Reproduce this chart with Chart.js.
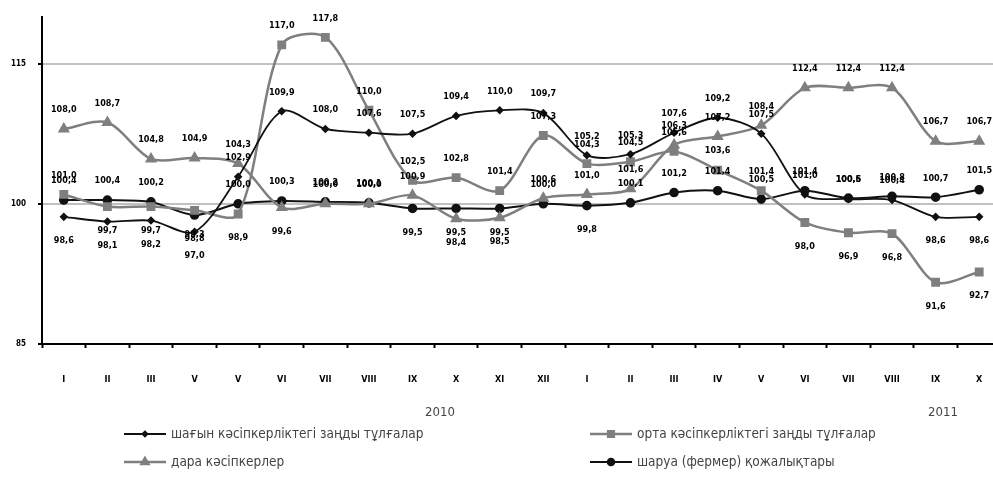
<!DOCTYPE html>
<html>
<head>
<meta charset="utf-8">
<script src="https://cdn.jsdelivr.net/npm/chart.js@4.4.1/dist/chart.umd.min.js"></script>
<style>
    html, body { margin: 0; padding: 0; background: #fff; overflow: hidden; }
    #wrap { width: 1010px; height: 500px; position: relative; }
</style>
</head>
<body>
<div id="wrap"><canvas id="indexChart"></canvas></div>
<script>
// Month labels (as printed on the axis) and year captions
const months = ['I', 'II', 'III', 'V', 'V', 'VI', 'VII', 'VIII', 'IX', 'X', 'XI', 'XII',
                'I', 'II', 'III', 'IV', 'V', 'VI', 'VII', 'VIII', 'IX', 'X'];
const years = ['2010', '2011'];
const yTicks = [85, 100, 115];

const seriesNames = [
    'шағын кәсіпкерліктегі заңды тұлғалар',
    'орта кәсіпкерліктегі заңды тұлғалар',
    'дара кәсіпкерлер',
    'шаруа (фермер) қожалықтары'
];

// Values
const smallBiz = [98.6, 98.1, 98.2, 97.0, 102.9, 109.9, 108.0, 107.6, 107.5, 109.4, 110.0, 109.7,
                  105.2, 105.3, 107.6, 109.2, 107.5, 101.0, 100.5, 100.4, 98.6, 98.6];
const mediumBiz = [101.0, 99.7, 99.7, 99.3, 98.9, 117.0, 117.8, 110.0, 102.5, 102.8, 101.4, 107.3,
                   104.3, 104.5, 105.6, 103.6, 101.4, 98.0, 96.9, 96.8, 91.6, 92.7];
const soleTraders = [108.0, 108.7, 104.8, 104.9, 104.3, 99.6, 100.0, 100.0, 100.9, 98.4, 98.5, 100.6,
                     101.0, 101.6, 106.3, 107.2, 108.4, 112.4, 112.4, 112.4, 106.7, 106.7];
const farms = [100.4, 100.4, 100.2, 98.8, 100.0, 100.3, 100.2, 100.1, 99.5, 99.5, 99.5, 100.0,
               99.8, 100.1, 101.2, 101.4, 100.5, 101.4, 100.6, 100.8, 100.7, 101.5];

const BLACK = '#111111';
const GRAY = '#7f7f7f';
const narrowFont = "'Liberation Sans Narrow', 'DejaVu Sans Condensed', 'Liberation Sans', sans-serif";

// value labels next to every point
const valueLabels = {
    id: 'valueLabels',
    afterDatasetsDraw(chart) {
        const ctx = chart.ctx;
        ctx.save();
        ctx.font = 'bold 9px ' + narrowFont;
        ctx.fillStyle = '#000';
        ctx.textAlign = 'center';
        ctx.textBaseline = 'middle';
        chart.data.datasets.forEach((ds, i) => {
            const meta = chart.getDatasetMeta(i);
            meta.data.forEach((pt, j) => {
                const v = ds.data[j];
                const text = v.toFixed(1).replace('.', ',');
                const dy = v >= 100 ? -19 : 24;
                ctx.fillText(text, pt.x, pt.y + dy);
            });
        });
        ctx.restore();
    }
};

// year captions and the 2x2 legend under the axis
const bottomText = {
    id: 'bottomText',
    afterDraw(chart) {
        const ctx = chart.ctx;
        ctx.save();
        ctx.font = '13px ' + narrowFont;
        ctx.fillStyle = '#444';
        ctx.textAlign = 'center';
        ctx.textBaseline = 'middle';
        ctx.fillText(years[0], 440, 413);
        ctx.fillText(years[1], 943, 413);

        const slots = [
            { ds: 0, x: 124, y: 434 },
            { ds: 1, x: 590, y: 434 },
            { ds: 2, x: 124, y: 462 },
            { ds: 3, x: 590, y: 462 }
        ];
        slots.forEach(s => {
            const ds = chart.data.datasets[s.ds];
            ctx.strokeStyle = ds.borderColor;
            ctx.fillStyle = ds.borderColor;
            ctx.lineWidth = ds.borderWidth;
            ctx.beginPath();
            ctx.moveTo(s.x, s.y);
            ctx.lineTo(s.x + 42, s.y);
            ctx.stroke();
            Chart.helpers.drawPoint(ctx, {
                pointStyle: ds.pointStyle,
                radius: ds.pointRadius - 0.5,
                rotation: 0,
                borderWidth: 1
            }, s.x + 21, s.y);
            ctx.fillStyle = '#444';
            ctx.textAlign = 'left';
            ctx.font = '13.5px ' + narrowFont;
            ctx.fillText(seriesNames[s.ds], s.x + 47, s.y);
        });
        ctx.restore();
    }
};

function makeSet(idx, data, color, style, radius, width) {
    return {
        label: seriesNames[idx],
        data: data,
        borderColor: color,
        backgroundColor: color,
        pointBackgroundColor: color,
        pointBorderColor: color,
        pointStyle: style,
        pointRadius: radius,
        borderWidth: width,
        tension: 0.3,
        fill: false
    };
}

const ctx = document.getElementById('indexChart').getContext('2d');
new Chart(ctx, {
    type: 'line',
    data: {
        labels: months,
        datasets: [
            makeSet(0, smallBiz, BLACK, 'rectRot', 3, 1.8),
            makeSet(1, mediumBiz, GRAY, 'rect', 4.5, 2.5),
            makeSet(2, soleTraders, GRAY, 'triangle', 4.5, 2.5),
            makeSet(3, farms, BLACK, 'circle', 3.8, 2)
        ]
    },
    options: {
        responsive: true,
        maintainAspectRatio: false,
        animation: false,
        layout: { padding: { top: 14, right: 9, left: 0, bottom: 0 } },
        plugins: {
            legend: { display: false },
            tooltip: { enabled: false }
        },
        scales: {
            x: {
                offset: true,
                afterFit: s => { s.height = 156; },
                grid: {
                    offset: true,
                    drawOnChartArea: false,
                    tickLength: 4,
                    tickColor: '#000',
                    tickWidth: 2
                },
                border: { color: '#000', width: 2 },
                ticks: {
                    autoSkip: false,
                    maxRotation: 0,
                    padding: 26,
                    color: '#000',
                    font: { family: narrowFont, size: 9, weight: 'bold' }
                }
            },
            y: {
                min: 85,
                max: 120,
                afterFit: s => { s.width = 42; },
                afterBuildTicks: s => { s.ticks = yTicks.map(v => ({ value: v })); },
                grid: {
                    color: c => (c.tick && c.tick.value === 85) ? 'rgba(0,0,0,0)' : '#c0c0c0',
                    lineWidth: 2,
                    tickLength: 4,
                    tickColor: '#000',
                    tickWidth: 2
                },
                border: { color: '#000', width: 2 },
                ticks: {
                    padding: 12,
                    color: '#000',
                    font: { family: narrowFont, size: 8, weight: 'bold' }
                }
            }
        }
    },
    plugins: [valueLabels, bottomText]
});
</script>
</body>
</html>
